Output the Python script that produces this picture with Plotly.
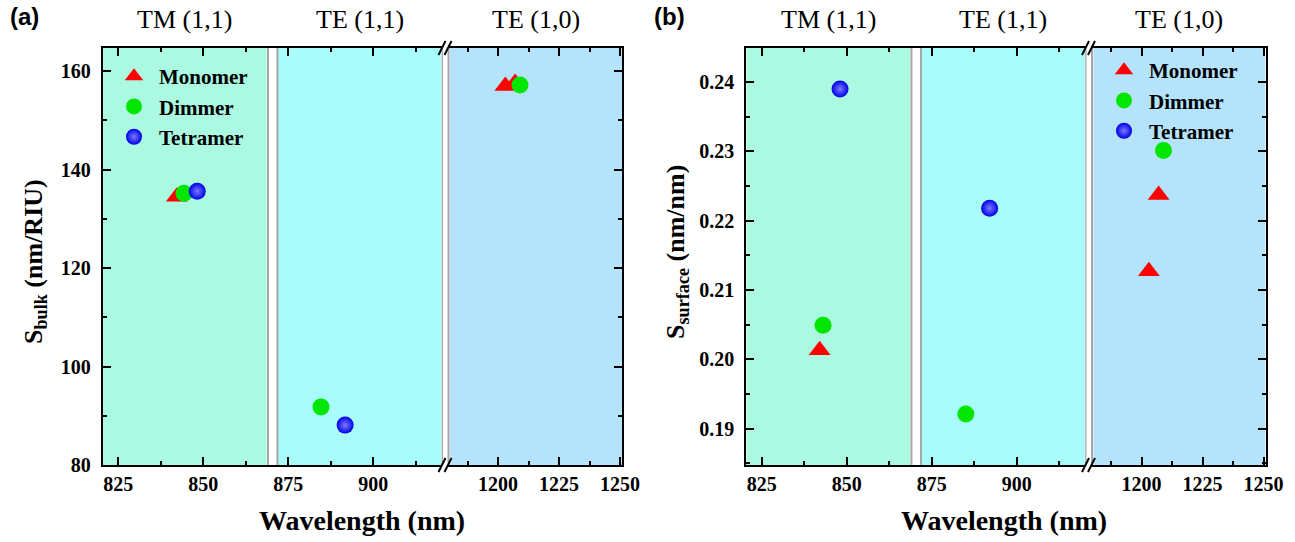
import plotly.graph_objects as go

W, H = 1295, 542

# ---------------- data ----------------
modes = ["TM (1,1)", "TE (1,1)", "TE (1,0)"]
series_names = ["Monomer", "Dimmer", "Tetramer"]

# panel (a): bulk sensitivity (nm/RIU)
a_monomer_wl = [842.2, 1203.0, 1207.0]
a_monomer_s = [134.5, 157.0, 157.6]
a_dimmer_wl = [844.3, 884.6, 1209.0]
a_dimmer_s = [135.2, 91.8, 157.2]
a_tetramer_wl = [848.2, 891.7]
a_tetramer_s = [135.6, 88.1]

# panel (b): surface sensitivity (nm/nm)
b_monomer_wl = [842.0, 1203.0, 1207.0]
b_monomer_s = [0.2013, 0.2127, 0.2237]
b_dimmer_wl = [843.0, 885.0, 1209.0]
b_dimmer_s = [0.2049, 0.1921, 0.2301]
b_tetramer_wl = [848.0, 892.0]
b_tetramer_s = [0.2390, 0.2218]

left_ticks = [825, 850, 875, 900]
right_ticks = [1200, 1225, 1250]
a_yticks = [80, 100, 120, 140, 160]
b_yticks = [0.19, 0.20, 0.21, 0.22, 0.23, 0.24]

# mode band edges (nm)
band_tm = [820.4, 868.6]
band_te11 = [872.0, 920.0]
band_te10 = [1180.3, 1250.8]

BREAK = 1000  # wavelengths above go to the right axis segment

# ---------------- helpers ----------------
def px(x):
    return x / W


def py(y):
    return 1 - y / H


SERIF = "Liberation Serif"
SANS = "Liberation Sans"

styles = {
    "Monomer": dict(symbol="triangle-up", size=19, color="#ff0000", line=dict(width=0)),
    "Dimmer": dict(symbol="circle", size=17, color="#00e600", line=dict(width=0)),
    "Tetramer": dict(symbol="circle", size=17, color="#0000e6", line=dict(width=0),
                     gradient=dict(type="radial", color="#7b7bff")),
}

panels = [
    dict(tag="(a)", left=102.7, brk_l=443.0, brk_r=447.0, right=622.0,
         yrange=[80, 164.7], yticks=a_yticks, ydtick=20, yminor=10, yfmt="d",
         ytitle="S<sub>bulk</sub> (nm/RIU)", ytitle_x=35, ytitle_y=262,
         data=[(a_monomer_wl, a_monomer_s), (a_dimmer_wl, a_dimmer_s), (a_tetramer_wl, a_tetramer_s)],
         legend=dict(x=px(109), y=py(56)), xtitle_x=362),
    dict(tag="(b)", left=746.2, brk_l=1086.5, brk_r=1090.5, right=1265.5,
         yrange=[0.18475, 0.2449], yticks=b_yticks, ydtick=0.01, yminor=0.005, yfmt=".2f",
         ytitle="S<sub>surface</sub> (nm/nm)", ytitle_x=677, ytitle_y=252,
         data=[(b_monomer_wl, b_monomer_s), (b_dimmer_wl, b_dimmer_s), (b_tetramer_wl, b_tetramer_s)],
         legend=dict(x=px(1099), y=py(50)), xtitle_x=1004),
]

TOP, BOTTOM = 48.0, 465.0
ydom = [py(BOTTOM), py(TOP)]
tickfont = dict(family=SERIF, size=20, color="black", weight="bold")

fig = go.Figure()
layout = dict(
    width=W, height=H, template="none",
    margin=dict(l=0, r=0, t=0, b=0),
    paper_bgcolor="white", plot_bgcolor="rgba(0,0,0,0)",
    showlegend=True,
)
shapes = []
annotations = []

for i, p in enumerate(panels):
    nl = 2 * i + 1
    nr = 2 * i + 2
    xl, xr = f"x{nl}", f"x{nr}"
    yl, yr = f"y{nl}", f"y{nr}"
    legname = "legend" if i == 0 else "legend2"

    # axis ranges from pixel geometry (3.4 px/nm left segment, 2.44 px/nm right segment)
    lrange = [820.4, 820.4 + (p["brk_l"] - p["left"]) / 3.4]
    rrange = [1250.8 - (p["right"] - p["brk_r"]) / 2.44, 1250.8]

    common_x = dict(showline=True, linecolor="black", linewidth=2, mirror="ticks",
                    ticks="inside", ticklen=8, tickwidth=2, tickcolor="black",
                    dtick=25, showgrid=False, zeroline=False, tickfont=tickfont,
                    ticklabelstandoff=0,
                    minor=dict(ticks="inside", ticklen=4, tickwidth=2, tickcolor="black", dtick=12.5))
    layout[f"xaxis{nl}"] = dict(common_x, domain=[px(p["left"]), px(p["brk_l"])], range=lrange,
                                 anchor=yl, tickmode="array", tickvals=left_ticks,
                                 minor=dict(common_x["minor"], tickmode="linear", tick0=812.5))
    layout[f"xaxis{nr}"] = dict(common_x, domain=[px(p["brk_r"]), px(p["right"])], range=rrange,
                                 anchor=yr, tickmode="array", tickvals=right_ticks,
                                 minor=dict(common_x["minor"], tickmode="linear", tick0=1187.5))
    common_y = dict(showline=True, linecolor="black", linewidth=2, mirror=False,
                    ticks="inside", ticklen=8, tickwidth=2, tickcolor="black",
                    showgrid=False, zeroline=False, tickfont=tickfont, domain=ydom,
                    range=p["yrange"], tickmode="array", tickvals=p["yticks"],
                    tickformat=p["yfmt"], ticklabelstandoff=6,
                    minor=dict(ticks="inside", ticklen=4, tickwidth=2, tickcolor="black",
                               dtick=p["yminor"], tick0=p["yticks"][0]))
    layout[f"yaxis{nl}"] = dict(common_y, anchor=xl, side="left")
    layout[f"yaxis{nr}"] = dict(common_y, anchor=xr, side="right", showticklabels=False)

    layout[legname] = dict(x=p["legend"]["x"], y=p["legend"]["y"], xanchor="left", yanchor="top",
                           bgcolor="rgba(0,0,0,0)", borderwidth=0, tracegroupgap=0,
                           itemwidth=40,
                           font=dict(family=SERIF, size=21, color="black", weight="bold"),
                           itemsizing="trace")

    # traces
    for name, (wl, s) in zip(series_names, p["data"]):
        lx = [w for w in wl if w < BREAK]
        ly = [v for w, v in zip(wl, s) if w < BREAK]
        rx = [w for w in wl if w >= BREAK]
        ry = [v for w, v in zip(wl, s) if w >= BREAK]
        grp = f"{name}{i}"
        fig.add_trace(go.Scatter(x=lx, y=ly, mode="markers", name=name, marker=styles[name],
                                 xaxis=xl, yaxis=yl, legend=legname, legendgroup=grp,
                                 showlegend=True, cliponaxis=False))
        fig.add_trace(go.Scatter(x=rx, y=ry, mode="markers", name=name, marker=styles[name],
                                 xaxis=xr, yaxis=yr, legend=legname, legendgroup=grp,
                                 showlegend=False, cliponaxis=False))

    # background bands
    for (b0, b1), col, xref in [(band_tm, "#abf9e1", xl), (band_te11, "#a9fcfc", xl),
                                 (band_te10, "#b4e3fb", xr)]:
        shapes.append(dict(type="rect", xref=xref, yref="paper", x0=b0, x1=b1,
                           y0=ydom[0], y1=ydom[1], fillcolor=col, line=dict(width=0),
                           layer="below"))
    # gray separator lines
    for xv, xref in [(band_tm[1] + 0.4, xl), (band_te11[0] - 0.2, xl),
                     (band_te11[1] + 0.4, xl), (band_te10[0] - 0.6, xr)]:
        shapes.append(dict(type="line", xref=xref, yref="paper", x0=xv, x1=xv,
                           y0=ydom[0], y1=ydom[1], line=dict(color="#a6a6a6", width=2),
                           layer="below"))
    # break marks "//" on top and bottom axes
    cx = (p["brk_l"] + p["brk_r"]) / 2
    for yy in (TOP, BOTTOM):
        shapes.append(dict(type="rect", xref="paper", yref="paper",
                           x0=px(cx - 3), x1=px(cx + 3), y0=py(yy + 2), y1=py(yy - 2),
                           fillcolor="white", line=dict(width=0)))
        for off in (-3, 3):
            shapes.append(dict(type="line", xref="paper", yref="paper",
                               x0=px(cx + off - 3.5), y0=py(yy + 7),
                               x1=px(cx + off + 3.5), y1=py(yy - 7),
                               line=dict(color="black", width=2)))

    # mode labels above the bands
    for label, (b0, b1), xref in [(modes[0], band_tm, xl), (modes[1], band_te11, xl),
                                  (modes[2], band_te10, xr)]:
        annotations.append(dict(text=label, xref=xref, yref="paper", x=(b0 + b1) / 2, y=py(20),
                                showarrow=False, xanchor="center", yanchor="middle",
                                font=dict(family=SERIF, size=26, color="black")))
    # panel tag
    annotations.append(dict(text=p["tag"], xref="paper", yref="paper",
                            x=px(p["left"] - 102.7 + 8), y=py(16), xanchor="left", yanchor="middle",
                            showarrow=False, font=dict(family=SANS, size=24, color="black", weight="bold")))
    # axis titles
    annotations.append(dict(text="Wavelength (nm)", xref="paper", yref="paper",
                            x=px(p["xtitle_x"]), y=py(520), xanchor="center", yanchor="middle",
                            showarrow=False, font=dict(family=SERIF, size=28, color="black", weight="bold")))
    annotations.append(dict(text=p["ytitle"], xref="paper", yref="paper",
                            x=px(p["ytitle_x"]), y=py(p["ytitle_y"]), xanchor="center", yanchor="middle",
                            textangle=-90, showarrow=False,
                            font=dict(family=SERIF, size=26, color="black", weight="bold")))

layout["shapes"] = shapes
layout["annotations"] = annotations
fig.update_layout(**layout)

fig.write_html("out.html", config={"displayModeBar": False},
               post_script="document.body.style.margin='0px';document.body.style.overflow='hidden';")
